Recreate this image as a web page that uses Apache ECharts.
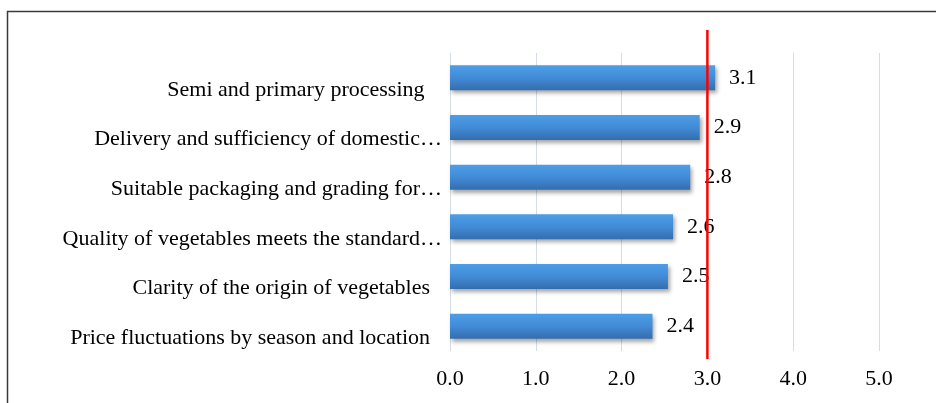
<!DOCTYPE html>
<html>
<head>
<meta charset="utf-8">
<script src="https://cdn.jsdelivr.net/npm/echarts@6/dist/echarts.min.js"></script>
<style>
  html, body { margin: 0; padding: 0; background: #ffffff; }
  #chart { width: 936px; height: 403px; }
</style>
</head>
<body>
<div id="chart"></div>
<script>
// Categories listed bottom-to-top (category axis starts at the bottom)
const categories = [
  'Price fluctuations by season and location',
  'Clarity of the origin of vegetables',
  'Quality of vegetables meets the standard…',
  'Suitable packaging and grading for…',
  'Delivery and sufficiency of domestic…',
  'Semi and primary processing '
];
// Mean scores
const scores = [2.36, 2.54, 2.60, 2.80, 2.91, 3.09];
// Reference score marked by the red vertical line
const threshold = [3.0];
// Value-axis tick range
const axisMin = 0;
const axisMax = 5;
const axisStep = 1;

const serif = '"Liberation Serif", "Times New Roman", serif';
const fs = 22;

const chart = echarts.init(document.getElementById('chart'), null, { renderer: 'canvas' });

chart.setOption({
  backgroundColor: '#ffffff',
  animation: false,
  graphic: [{
    type: 'rect',
    left: 5, top: 9,
    shape: { width: 1000, height: 500 },
    style: { fill: 'none', stroke: '#3a3a3a', lineWidth: 1.5 },
    silent: true
  }],
  grid: [
    { left: 450, right: 57, top: 53, bottom: 52 },
    { left: 450, right: 57, top: 30, bottom: 44 }
  ],
  xAxis: [{
    gridIndex: 0,
    type: 'value',
    min: axisMin, max: axisMax, interval: axisStep,
    axisLine: { show: false },
    axisTick: { show: false },
    splitLine: { show: true, lineStyle: { color: '#D5DCE6', width: 1 } },
    axisLabel: {
      margin: 17,
      color: '#000000',
      fontFamily: serif,
      fontSize: fs,
      formatter: v => v.toFixed(1)
    }
  }, {
    gridIndex: 1,
    type: 'value',
    min: axisMin, max: axisMax,
    show: false
  }],
  yAxis: [{
    gridIndex: 0,
    type: 'category',
    data: categories,
    axisLine: { show: false },
    axisTick: { show: false },
    splitLine: { show: false },
    axisLabel: {
      margin: 8,
      color: '#000000',
      fontFamily: serif,
      fontSize: fs,
      formatter: v => v.endsWith('…') ? '{cut|' + v + '}' : '{full|' + v + '}',
      rich: {
        cut: { fontFamily: serif, fontSize: fs, color: '#000', padding: [24, 0, 0, 0] },
        full: { fontFamily: serif, fontSize: fs, color: '#000', padding: [24, 12, 0, 0] }
      }
    }
  }, {
    gridIndex: 1,
    type: 'value',
    min: 0, max: 1,
    show: false
  }],
  series: [{
    type: 'bar',
    xAxisIndex: 0,
    yAxisIndex: 0,
    data: scores,
    barWidth: 25,
    itemStyle: {
      color: new echarts.graphic.LinearGradient(0, 0, 0, 1, [
        { offset: 0, color: '#4D9EE7' },
        { offset: 0.5, color: '#428BD6' },
        { offset: 1, color: '#346DAE' }
      ]),
      shadowColor: 'rgba(0,0,0,0.35)',
      shadowBlur: 4,
      shadowOffsetX: 2,
      shadowOffsetY: 3
    },
    label: {
      show: true,
      position: 'right',
      distance: 14,
      color: '#000000',
      fontFamily: serif,
      fontSize: fs,
      formatter: p => p.value.toFixed(1)
    },
    z: 2
  }, {
    type: 'line',
    xAxisIndex: 1,
    yAxisIndex: 1,
    data: [[threshold[0], 0], [threshold[0], 1]],
    symbol: 'none',
    lineStyle: { color: '#FF0000', width: 2.5 },
    silent: true,
    z: 5
  }]
});
</script>
</body>
</html>
